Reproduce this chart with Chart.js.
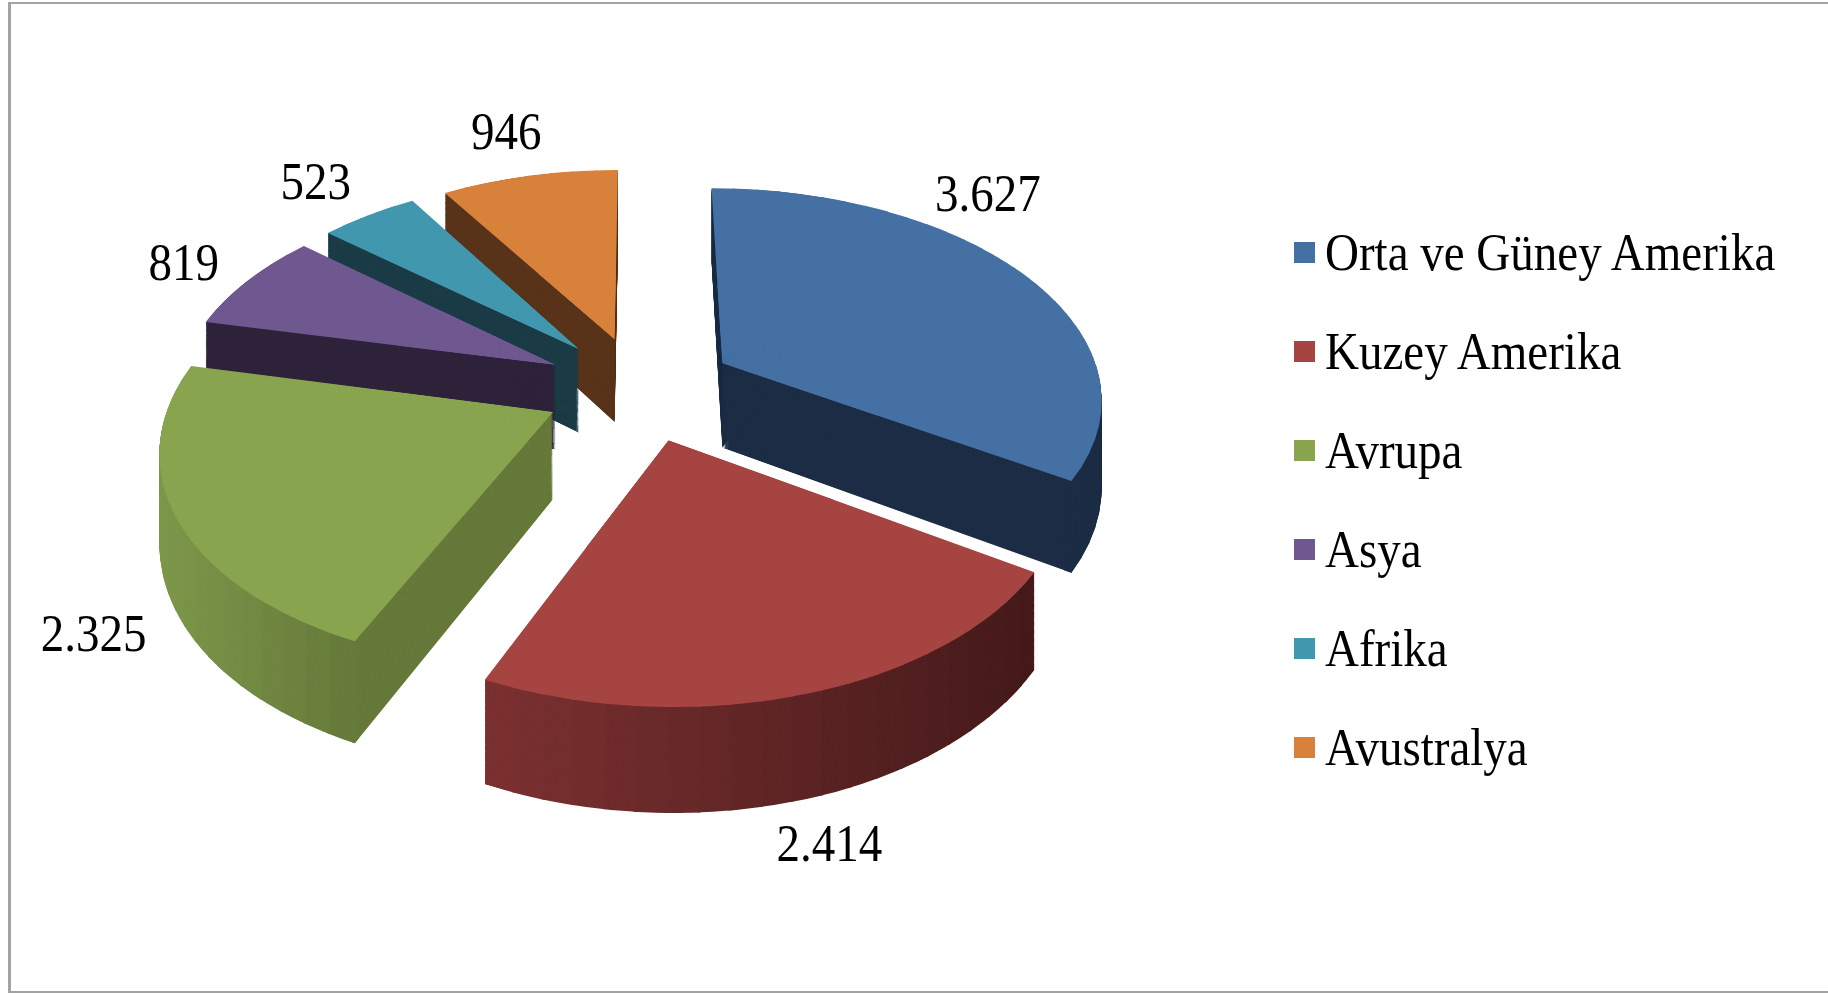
<!DOCTYPE html>
<html>
<head>
<meta charset="utf-8">
<script src="https://cdn.jsdelivr.net/npm/chart.js@4.4.1/dist/chart.umd.min.js"></script>
<style>
  html, body { margin: 0; padding: 0; background: #fff; overflow: hidden; }
  #frame { position: absolute; left: 8px; top: 2px; width: 1830px; height: 991px; box-sizing: border-box;
    border-left: 3px solid #a3a3a3; border-top: 2px solid #a3a3a3; border-bottom: 2px solid #a3a3a3; }
  #chart { position: absolute; left: 0; top: 0; }
  #legend { position: absolute; left: 1294px; top: 203px; font-family: "Liberation Serif", "Times New Roman", serif;
    font-size: 47px; color: #000; }
  .row { height: 99px; display: flex; align-items: center; white-space: nowrap; }
  .sw { width: 21px; height: 21px; margin-right: 10px; flex: none; }
  .tx { display: inline-block; line-height: 1; transform: scaleY(1.12); }
</style>
</head>
<body>
<div id="frame"></div>
<canvas id="chart" width="1828" height="993"></canvas>
<div id="legend"></div>
<script>
// ürün dağılımı, kıtalara göre
const categories = ['Orta ve Güney Amerika', 'Kuzey Amerika', 'Avrupa', 'Asya', 'Afrika', 'Avustralya'];
const values = [3627, 2414, 2325, 819, 523, 946];

// top face, cut face, outer wall (left -> right)
const topColors = ['#4470a3', '#a64442', '#88a44e', '#6f578f', '#4197ae', '#d8813b'];
const cutColors = ['#1c2d45', '#461b1b', '#66793a', '#2e233a', '#1b3c47', '#59341a'];
const wallColors = [
  ['#1c2d45', '#1c2d45'], ['#7c3131', '#451a1a'], ['#7e984b', '#65793a'],
  ['#2e233a', '#2e233a'], ['#1b3c47', '#1b3c47'], ['#59341a', '#59341a']
];

const FONT = '"Liberation Serif", "Times New Roman", serif';
const fmt = v => String(v).replace(/\B(?=(\d{3})+(?!\d))/g, '.');

function rgb(h) {
  const n = parseInt(h.slice(1), 16);
  return [n >> 16, (n >> 8) & 255, n & 255];
}
function mix(a, b, t) {
  const x = rgb(a), y = rgb(b);
  return 'rgb(' + x.map((v, i) => Math.round(v + (y[i] - v) * t)).join(',') + ')';
}

// geometry of the tilted, exploded pie (plane -> screen with a bit of perspective)
function geometry(chart, o) {
  const arcs = chart.getDatasetMeta(0).data;
  const c = { x: arcs[0].x, y: arcs[0].y };
  const R = arcs[0].outerRadius;
  const proj = (px, py, h) => {
    const u = px - c.x, v = py - c.y, s = 1 / (1 - o.persp * v);
    return [c.x + u * s, c.y + (o.tilt * v + h) * s];
  };
  const step = Math.PI / 45;
  const slices = arcs.map((arc, i) => {
    const m = (arc.startAngle + arc.endAngle) / 2;
    const A = [c.x + o.explode * Math.cos(m), c.y + o.explode * Math.sin(m)];
    const n = Math.max(1, Math.ceil((arc.endAngle - arc.startAngle) / step));
    const cuts = [];
    for (let k = 0; k <= n; k++) cuts.push(arc.startAngle + (arc.endAngle - arc.startAngle) * k / n);
    return { arc, i, m, A, n, cuts };
  });
  return { c, R, proj, slices };
}

const pie3d = {
  id: 'pie3d',
  beforeDatasetsDraw(chart, args, o) {
    const ctx = chart.ctx;
    const base = ctx.getTransform();
    const { c, R, proj, slices } = geometry(chart, o);
    const over = 0.004;

    // one angular piece of a slice, at height h, mapped with its own affine fit
    const piece = (arc, A, t0, t1, h, fill, inner, outer) => {
      const e0 = [R * Math.cos(t0), R * Math.sin(t0)];
      const e1 = [R * Math.cos(t1), R * Math.sin(t1)];
      const Ap = proj(A[0], A[1], h);
      const P0 = proj(A[0] + e0[0], A[1] + e0[1], h);
      const P1 = proj(A[0] + e1[0], A[1] + e1[1], h);
      const d0 = [P0[0] - Ap[0], P0[1] - Ap[1]];
      const d1 = [P1[0] - Ap[0], P1[1] - Ap[1]];
      const det = e0[0] * e1[1] - e1[0] * e0[1];
      const a = (d0[0] * e1[1] - d1[0] * e0[1]) / det;
      const cc = (d1[0] * e0[0] - d0[0] * e1[0]) / det;
      const b = (d0[1] * e1[1] - d1[1] * e0[1]) / det;
      const d = (d1[1] * e0[0] - d0[1] * e1[0]) / det;
      const ex = Ap[0] - (a * c.x + cc * c.y);
      const ey = Ap[1] - (b * c.x + d * c.y);

      ctx.save();
      ctx.beginPath();
      ctx.moveTo(Ap[0], Ap[1]);
      [t0 - over, (t0 + t1) / 2, t1 + over].forEach(t => {
        const p = proj(A[0] + 1.3 * R * Math.cos(t), A[1] + 1.3 * R * Math.sin(t), h);
        ctx.lineTo(p[0], p[1]);
      });
      ctx.closePath();
      ctx.clip();
      ctx.setTransform(base.multiply(new DOMMatrix([a, b, cc, d, ex, ey])));
      const ghost = Object.create(arc);
      ghost.options = Object.assign({}, arc.options, { backgroundColor: fill, borderWidth: 0 });
      if (inner) ghost.innerRadius = inner;
      if (outer) ghost.outerRadius = outer;
      ghost.draw(ctx);
      ctx.restore();
    };

    const wide = 25 * Math.PI / 180;
    slices
      .slice()
      .sort((p, q) => Math.sin(p.m) - Math.sin(q.m))
      .forEach(s => {
        const { arc, A, n, cuts, i } = s;
        const s0 = arc.startAngle, s1 = arc.endAngle;
        const span = Math.min(wide, s1 - s0);
        const xs = cuts.map(t => proj(A[0] + R * Math.cos(t), A[1] + R * Math.sin(t), o.depth)[0]);
        const xmin = Math.min(...xs), xmax = Math.max(...xs);
        const walls = [];
        for (let k = 0; k < n; k++) {
          if (Math.max(Math.sin(cuts[k]), Math.sin(cuts[k + 1])) < -0.1) continue;
          const x = (xs[k] + xs[k + 1]) / 2;
          const t = xmax > xmin ? (x - xmin) / (xmax - xmin) : 0;
          walls.push([k, mix(wallColors[i][0], wallColors[i][1], t)]);
        }
        // cut faces along both radii
        for (let h = o.depth; h > 0; h--) {
          piece(arc, A, s0, s0 + span, h, cutColors[i]);
          piece(arc, A, s1 - span, s1, h, cutColors[i]);
        }
        // outer wall
        for (let h = o.depth; h > 0; h--) {
          walls.forEach(([k, col]) => piece(arc, A, cuts[k], cuts[k + 1], h, col, R - 8));
        }
        // top face: solid core near the apex, then the fine pieces
        piece(arc, A, s0, s1, 0, topColors[i], 0, R * 0.45);
        for (let k = 0; k < n; k++) piece(arc, A, cuts[k], cuts[k + 1], 0, topColors[i]);
      });
    return false;
  },
  afterDraw(chart, args, o) {
    const ctx = chart.ctx;
    const { R, proj, slices } = geometry(chart, o);
    let maxX = -Infinity;
    slices.forEach(s => s.cuts.forEach(t => {
      maxX = Math.max(maxX, proj(s.A[0] + R * Math.cos(t), s.A[1] + R * Math.sin(t), 0)[0]);
    }));
    const limit = maxX - o.labelInset;

    ctx.save();
    ctx.font = o.fontSize + 'px ' + FONT;
    ctx.fillStyle = '#000';
    ctx.textAlign = 'center';
    ctx.textBaseline = 'alphabetic';
    const halfH = 0.331 * o.fontSize * o.textStretch;
    const deg = Math.PI / 180;

    slices.forEach(s => {
      const text = fmt(values[s.i]);
      const halfW = ctx.measureText(text).width / 2;
      const place = t => {
        const h = Math.sin(t) > 0 ? o.depth : 0;
        const S = proj(s.A[0] + R * Math.cos(t), s.A[1] + R * Math.sin(t), h);
        const Q = proj(s.A[0], s.A[1], h);
        let wx = S[0] - Q[0], wy = S[1] - Q[1];
        const L = Math.hypot(wx, wy);
        wx /= L; wy /= L;
        // distance from label centre to its box edge along the outward direction
        const edge = Math.min(halfW / Math.max(Math.abs(wx), 1e-6), halfH / Math.max(Math.abs(wy), 1e-6));
        return [S[0] + wx * (o.labelGap + edge), S[1] + wy * (o.labelGap + edge)];
      };
      // keep labels clear of the legend side
      let pos = place(s.m);
      for (let k = 1; k < 80 && pos[0] + halfW > limit; k++) {
        const t = s.m - k * deg;
        if (t < s.arc.startAngle) break;
        pos = place(t);
      }
      ctx.save();
      ctx.translate(pos[0], pos[1]);
      ctx.scale(1, o.textStretch);
      ctx.fillText(text, 0, 0.331 * o.fontSize);
      ctx.restore();
    });
    ctx.restore();
  }
};

new Chart(document.getElementById('chart'), {
  type: 'pie',
  data: {
    labels: categories,
    datasets: [{
      data: values,
      backgroundColor: topColors,
      borderWidth: 0,
      radius: 380
    }]
  },
  options: {
    responsive: false,
    animation: false,
    events: [],
    layout: { padding: { left: 0, right: 548, top: 0, bottom: 217 } },
    plugins: {
      legend: { display: false },
      tooltip: { enabled: false },
      pie3d: {
        tilt: 0.549, persp: 0.0004, depth: 86, explode: 95.5,
        labelGap: 30, labelInset: 57, fontSize: 47, textStretch: 1.12
      }
    }
  },
  plugins: [pie3d]
});

// legend
const legend = document.getElementById('legend');
categories.forEach((name, i) => {
  const row = document.createElement('div');
  row.className = 'row';
  row.innerHTML = '<span class="sw" style="background:' + topColors[i] + '"></span><span class="tx">' + name + '</span>';
  legend.appendChild(row);
});
</script>
</body>
</html>
